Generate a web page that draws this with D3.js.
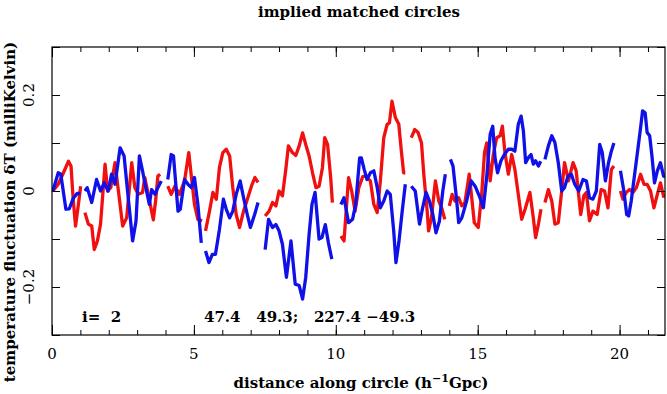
<!DOCTYPE html>
<html lang="en">
<head>
<meta charset="UTF-8" />
<title>implied matched circles</title>
<script src="https://cdn.jsdelivr.net/npm/d3@7/dist/d3.min.js"></script>
<style>
  body { margin: 0; background: #fff; }
  text { font-family: "DejaVu Serif", serif; fill: #000; }
</style>
</head>
<body>
<svg class="svg" width="667" height="394"></svg>
<script>
// --- data: each series is a list of segments, each segment [distance, deltaT] ---
const xMax = 21.6;
const yDomain = [-0.3, 0.3];
const xMajor = [0, 5, 10, 15, 20];
const xMinor = d3.range(0, 22, 1);
const yMajor = [-0.2, 0, 0.2];
const yMinor = [-0.3, -0.2, -0.1, 0, 0.1, 0.2, 0.3];

const red = [
  [[0.03,0],[0.22,0.014],[0.38,0.035],[0.58,0.062],[0.67,0.052],[0.75,-0.02],[0.83,-0.073],[0.93,-0.028],[1.01,0.01]],
  [[1.16,-0.045],[1.28,-0.069],[1.4,-0.073],[1.49,-0.122],[1.6,-0.104],[1.71,-0.069],[1.87,0.056],[1.96,0],[2.07,0.007],
   [2.22,0.059],[2.34,0],[2.49,-0.073],[2.63,-0.056],[2.81,0.059],[2.92,0.007],[3.04,-0.007],[3.19,-0.003],[3.27,0.028],
   [3.39,-0.007],[3.57,-0.06],[3.65,-0.021],[3.73,0.031],[3.81,0.035]],
  [[4.08,0.01],[4.2,-0.007],[4.33,0.01],[4.49,-0.007],[4.67,0.021],[4.82,0.08],[4.91,0.031],[5.02,-0.028],[5.14,-0.059],[5.29,-0.062]],
  [[5.41,-0.083],[5.55,-0.042],[5.67,-0.003],[5.79,-0.017],[5.9,0.049],[6.02,0.08],[6.14,0.087],[6.26,0.073],[6.37,0.007],
   [6.49,-0.049],[6.61,-0.076],[6.75,-0.042],[6.9,-0.014],[7.05,0.014],[7.15,0.028],[7.26,0.018]],
  [[7.51,-0.052],[7.65,-0.042],[7.77,-0.024],[7.89,-0.031],[8.0,0],[8.12,-0.01],[8.24,0.046],[8.33,0.094],[8.47,0.08],
   [8.59,0.074],[8.71,0.094],[8.83,0.121],[8.94,0.097],[9.06,0.073],[9.18,0.038],[9.3,0.007],[9.41,0.01],[9.53,0.049],
   [9.61,0.111],[9.71,0.097],[9.82,0.028],[9.88,-0.024]],
  [[10.18,-0.094],[10.29,-0.104],[10.45,0.028],[10.56,0],[10.68,-0.042],[10.81,0.007],[10.95,0.03],[11.04,0.031],
   [11.22,0.021],[11.34,-0.028],[11.46,-0.045],[11.57,0.021],[11.69,0.111],[11.81,0.139],[11.89,0.142],[11.98,0.187],
   [12.1,0.153],[12.22,0.139],[12.31,0.083],[12.39,0.038],[12.45,0.038]],
  [[12.66,0.111],[12.78,0.128],[12.9,0.122],[13.02,0.1],[13.1,0.035],[13.22,-0.042],[13.27,-0.083],[13.37,-0.056],
   [13.51,0.021],[13.63,-0.021],[13.73,-0.035],[13.84,-0.059]],
  [[14.0,-0.031],[14.1,-0.007],[14.2,-0.021],[14.33,-0.014],[14.44,-0.031],[14.55,-0.024],[14.7,0.035],[14.79,-0.014],
   [14.88,-0.066],[15.02,-0.076],[15.14,-0.007],[15.24,0.08],[15.32,0.1],[15.44,0.021],[15.55,0.076],[15.67,0.111],
   [15.79,0.115],[15.87,0.135],[15.96,0.08],[16.08,0.035],[16.2,0.076],[16.31,0.045],[16.43,-0.007],[16.55,-0.059],
   [16.67,-0.038],[16.84,-0.003],[16.96,-0.056],[17.04,-0.097],[17.14,-0.069],[17.23,-0.038]],
  [[17.37,-0.024],[17.49,0.003],[17.61,-0.021],[17.72,-0.069],[17.84,-0.066],[17.96,0],[18.06,0.059],[18.2,0.021],
   [18.36,0.059],[18.47,0.042],[18.63,-0.049],[18.74,-0.01],[18.83,-0.003],[18.94,-0.062],[19.06,-0.042],[19.21,-0.049],
   [19.35,0.003],[19.47,0],[19.59,-0.035],[19.71,0.045],[19.8,0.052]],
  [[20.03,0],[20.12,-0.017],[20.23,-0.003],[20.35,0.003],[20.47,-0.003],[20.59,0.007],[20.74,0.035],[20.86,0.014],
   [20.97,0.014],[21.09,0],[21.21,-0.035],[21.33,-0.007],[21.44,0.017],[21.56,-0.014]]
];

const blue = [
  [[0.03,0],[0.22,0.038],[0.31,0.035],[0.49,-0.038],[0.61,-0.037],[0.75,-0.015],[0.89,-0.005],[1.0,-0.005]],
  [[1.16,0],[1.24,0.007],[1.4,-0.024],[1.57,0.024],[1.71,0],[1.84,0.017],[1.98,0],[2.1,0.035],[2.22,0.014],[2.4,0.09],
   [2.54,0.073],[2.65,0.007],[2.84,-0.104],[2.96,-0.063],[3.08,0.073],[3.19,0.042],[3.33,0],[3.43,-0.028],[3.51,0.003],
   [3.63,-0.007],[3.73,0.007],[3.85,0.021]],
  [[4.08,0.024],[4.2,0.076],[4.28,0.073],[4.44,-0.042],[4.52,-0.038],[4.67,0.024],[4.79,0.014],[4.91,0.007],[5.02,0.028],
   [5.14,-0.028],[5.26,-0.108]],
  [[5.41,-0.125],[5.53,-0.149],[5.65,-0.132],[5.76,-0.132],[5.9,-0.08],[6.04,-0.017],[6.14,-0.038],[6.26,-0.056],
   [6.37,-0.042],[6.49,-0.007],[6.63,0.021],[6.75,-0.014],[6.88,-0.049],[6.99,-0.076],[7.14,-0.049],[7.26,-0.024]],
  [[7.51,-0.122],[7.63,-0.059],[7.77,-0.076],[7.89,-0.07],[8.0,-0.083],[8.12,-0.111],[8.26,-0.18],[8.42,-0.104],
   [8.57,-0.194],[8.71,-0.197],[8.83,-0.225],[8.94,-0.18],[9.06,-0.09],[9.16,-0.028],[9.27,-0.003],[9.41,-0.1],
   [9.51,-0.097],[9.63,-0.07],[9.74,-0.108],[9.86,-0.142]],
  [[10.18,-0.028],[10.29,-0.014],[10.45,-0.066],[10.59,-0.059],[10.7,-0.028],[10.84,0.069],[10.9,0.069],[11.0,0.045],
   [11.1,0.024],[11.22,0.038],[11.34,0.042],[11.46,0.007],[11.57,-0.035],[11.69,-0.021],[11.81,0],[11.92,-0.007],
   [12.04,-0.083],[12.12,-0.149],[12.22,-0.108],[12.34,-0.042],[12.45,0.014]],
  [[12.66,0.01],[12.8,0],[12.95,-0.069],[13.06,-0.035],[13.18,-0.003],[13.3,-0.021],[13.42,-0.049],[13.53,-0.087],
   [13.65,-0.063],[13.77,0],[13.86,0.035]],
  [[14.04,0.066],[14.13,0.052],[14.25,-0.014],[14.33,-0.066],[14.44,-0.056],[14.61,-0.021],[14.77,0.021],[14.91,0.01],
   [15.08,-0.014],[15.2,-0.035],[15.32,0.031],[15.44,0.118],[15.53,0.135],[15.61,0.069],[15.7,0.038],[15.82,0.063],
   [15.94,0.076],[16.08,0.087],[16.2,0.087],[16.31,0.083],[16.43,0.139],[16.53,0.156],[16.61,0.125],[16.69,0.059],
   [16.78,0.069],[16.88,0.076],[16.96,0.056],[17.04,0.063],[17.14,0.052],[17.22,0.062]],
  [[17.37,0.066],[17.49,0.094],[17.61,0.115],[17.72,0.101],[17.84,0.059],[17.96,0],[18.06,0.007],[18.18,0.031],
   [18.3,0.035],[18.42,0.014],[18.56,0],[18.71,0.024],[18.83,0.021],[18.94,-0.014],[19.06,-0.017],[19.18,0],
   [19.3,0.097],[19.39,0.08],[19.5,0.021],[19.61,0.059],[19.71,0.083],[19.8,0.1]],
  [[20.03,0.042],[20.15,0],[20.25,-0.049],[20.32,-0.052],[20.41,-0.021],[20.53,0.035],[20.65,0.09],[20.74,0.132],
   [20.81,0.167],[20.9,0.163],[20.97,0.122],[21.06,0.115],[21.14,0.073],[21.23,0.017],[21.33,0.042],[21.44,0.059],
   [21.55,0.031],[21.6,0.03]]
];

const title = 'implied matched circles';
const xTitle = 'distance along circle (h';
const yTitle = 'temperature fluctuation δT (milliKelvin)';
const noteLeft = 'i=\u00a0\u00a02';
const noteRight = '47.4\u00a0\u00a0\u00a049.3;\u00a0\u00a0\u00a0227.4\u00a0−49.3';

// --- layout ---
const svg = d3.select('.svg');
const padL = 52, padR = 665, padT = 47, padB = 335;

const x = d3.scaleLinear().domain([0, xMax]).range([padL, padR]);
const y = d3.scaleLinear().domain(yDomain).range([padB, padT]);

svg.append('defs').append('clipPath').attr('id', 'plot')
  .append('rect').attr('x', padL).attr('y', padT)
  .attr('width', padR - padL).attr('height', padB - padT);

// series
const line = d3.line().x(d => x(d[0])).y(d => y(d[1]));
const series = svg.append('g').attr('clip-path', 'url(#plot)');
[[red, '#f01010'], [blue, '#1010e8']].forEach(([segs, color]) => {
  series.append('g').selectAll('path')
    .data(segs)
    .enter()
    .append('path')
    .attr('d', line)
    .attr('fill', 'none')
    .attr('stroke', color)
    .attr('stroke-width', 3.3)
    .attr('stroke-linejoin', 'round')
    .attr('stroke-linecap', 'butt');
});

// ticks on all four sides, pointing inward
function tickAxis(axisFn, scale, values, size, transform) {
  const g = svg.append('g')
    .attr('transform', transform)
    .call(axisFn(scale).tickValues(values).tickSize(-size).tickFormat(''));
  g.select('.domain').remove();
  g.selectAll('line').attr('stroke', '#000').attr('stroke-width', 1);
}
tickAxis(d3.axisBottom, x, xMinor, 5, `translate(0,${padB})`);
tickAxis(d3.axisBottom, x, xMajor, 10, `translate(0,${padB})`);
tickAxis(d3.axisTop, x, xMinor, 5, `translate(0,${padT})`);
tickAxis(d3.axisTop, x, xMajor, 10, `translate(0,${padT})`);
tickAxis(d3.axisLeft, y, yMinor, 8, `translate(${padL},0)`);
tickAxis(d3.axisRight, y, yMinor, 8, `translate(${padR},0)`);

// frame
svg.append('rect')
  .attr('x', padL).attr('y', padT)
  .attr('width', padR - padL).attr('height', padB - padT)
  .attr('fill', 'none').attr('stroke', '#000').attr('stroke-width', 1.2);

// x tick labels
svg.append('g').selectAll('text')
  .data(xMajor)
  .enter()
  .append('text')
  .attr('x', d => x(d))
  .attr('y', 359)
  .attr('text-anchor', 'middle')
  .attr('font-size', 15)
  .text(d => d);

// y tick labels (rotated)
svg.append('g').selectAll('text')
  .data(yMajor)
  .enter()
  .append('text')
  .attr('transform', d => `translate(34,${y(d)}) rotate(-90)`)
  .attr('text-anchor', 'middle')
  .attr('font-size', 15)
  .text(d => d === 0 ? '0' : (d < 0 ? '−' : '') + Math.abs(d));

// titles
svg.append('text')
  .attr('x', 359).attr('y', 17)
  .attr('text-anchor', 'middle')
  .attr('font-size', 15).attr('font-weight', 'bold')
  .text(title);

const xt = svg.append('text')
  .attr('x', 361).attr('y', 388)
  .attr('text-anchor', 'middle')
  .attr('font-size', 15).attr('font-weight', 'bold');
xt.append('tspan').text(xTitle);
xt.append('tspan').attr('dy', -6).attr('font-size', 11).text('−1');
xt.append('tspan').attr('dy', 6).text('Gpc)');

svg.append('text')
  .attr('transform', 'translate(15,212) rotate(-90)')
  .attr('text-anchor', 'middle')
  .attr('font-size', 15).attr('font-weight', 'bold')
  .text(yTitle);

// annotation inside the plot
svg.append('text')
  .attr('x', 82).attr('y', 322)
  .attr('font-size', 15).attr('font-weight', 'bold')
  .text(noteLeft);
svg.append('text')
  .attr('x', 204).attr('y', 322)
  .attr('font-size', 15).attr('font-weight', 'bold')
  .text(noteRight);
</script>
</body>
</html>
